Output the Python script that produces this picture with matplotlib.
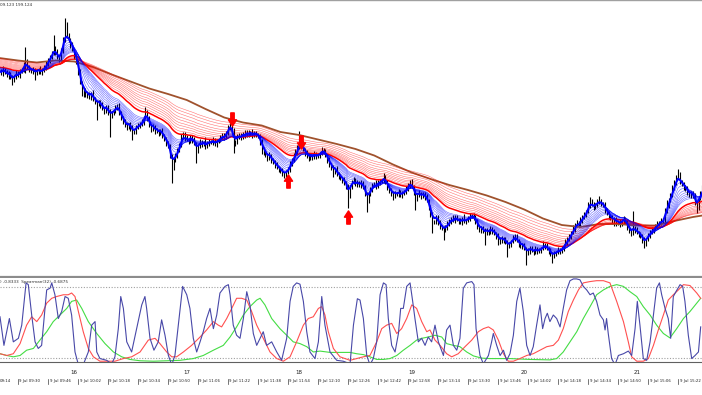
import numpy as np
import matplotlib
matplotlib.use("Agg")
import matplotlib.pyplot as plt
from matplotlib.path import Path

# ----------------------------
# Data (1-minute bars, time = minutes after 09:30)
# prices stored in points of 0.001 above BASE
# ----------------------------
BASE = 198.900
START_MIN = -10

close_pts = [
    458, 454, 462, 456, 450, 452, 446, 440, 448, 454, 450, 458,
    462, 470, 478, 466,
    462, 458, 460, 454, 458, 462, 456, 460, 466,
    472, 480, 488, 494, 504, 496,
    486, 482,
    500, 520, 540,
    530, 520, 510, 502,
    488, 476,
    456, 436, 414,
    418, 410, 412,
    406, 414, 402, 398,
    392, 396, 390,
    384, 378, 386, 376, 370,
    374, 380, 384, 388, 376,
    364, 358, 350, 346, 352,
    344, 336, 338, 346,
    350, 352, 356,
    366, 376, 364,
    350, 342, 346, 338,
    340, 334, 338, 330,
    322, 314, 308,
    290, 266, 280,
    290, 300, 312,
    326, 332, 324,
    322, 318, 326, 320, 314,
    300, 308, 316,
    312, 316, 308, 314, 318,
    316, 320, 312, 318, 322,
    324, 330, 326,
    336, 344, 352, 340,
    312, 318, 326,
    330, 326, 334, 330, 336,
    332, 336, 330, 334, 332,
    328, 316, 304,
    296, 290, 284, 290, 280,
    276, 270, 266, 262,
    258, 254, 252, 256, 262,
    272, 282, 290, 296,
    306, 318, 314,
    302, 294, 288, 284,
    288, 286, 292, 288, 290, 294,
    300, 298,
    290, 280, 270,
    266, 258, 262, 252, 248, 244,
    240, 234, 228,
    210,
    226, 238, 240,
    232, 236, 230, 234,
    226, 214, 200, 212, 222,
    230, 234, 228, 236,
    238, 240, 246, 236,
    226, 218, 214, 210, 214,
    212, 216, 210, 214, 218,
    222, 230, 236,
    228, 216, 204,
    210, 214, 208, 212,
    206, 200,
    186, 170, 156,
    158, 166, 154, 148, 144,
    140, 146,
    152, 158, 164, 160, 166, 162,
    158, 156, 162, 158, 160,
    164, 168, 170, 166,
    156, 148, 140, 144, 138, 134,
    140, 136, 142, 138, 134,
    128, 122, 118, 124, 120,
    116, 108, 112,
    118, 124, 128, 120,
    112, 108, 110, 104,
    94, 98, 104,
    100, 96, 102, 98, 100, 104,
    108, 110, 104,
    98, 92, 88, 94, 96,
    100, 98, 104,
    110, 116, 122,
    128, 136, 142,
    150, 156, 152,
    160, 166, 172, 178,
    190, 198, 192,
    186, 192, 196,
    198, 194, 190,
    180, 174, 168,
    164, 158, 162,
    154, 156, 152,
    158, 164, 156,
    146, 138, 134, 144,
    140, 136, 132,
    128, 120, 114, 122,
    130, 136, 140,
    144, 148, 152,
    156, 160, 158,
    178, 190, 200,
    212, 224, 236,
    246, 250, 238,
    232, 226, 222, 216,
    210, 214, 208,
    196, 186,
    204, 214, 224,
]

wick_hi = [
    5, 4, 6, 3, 5, 6, 4, 5, 3, 6,
    4, 5, 3, 6, 28, 4, 5, 3, 6, 4,
    5, 3, 6, 4, 5, 7, 4, 3, 5, 26,
    4, 6, 3, 5, 6, 24, 16, 5, 4, 6,
    3, 5, 4, 6, 3, 5, 7, 4, 5, 3,
    6, 4, 3, 5, 4, 6, 3, 5, 4, 6,
    5, 3, 6, 4, 7, 3, 5, 4, 6, 3,
    4, 6, 3, 5, 4, 5, 6, 3, 10, 4,
    5, 3, 6, 4, 5, 3, 4, 6, 3, 5,
    4, 5, 3, 6, 4, 5, 3, 6, 4, 5,
    6, 3, 5, 4, 6, 3, 5, 7, 4, 3,
    10, 4, 5, 3, 6, 4, 5, 3, 6, 4,
    5, 3, 6, 10, 4, 5, 3, 6, 4, 5,
    3, 6, 4, 5, 3, 6, 4, 5, 3, 4,
    6, 3, 5, 4, 6, 3, 5, 4, 6, 3,
    4, 6, 3, 5, 4, 6, 3, 5, 7, 4,
    20, 4, 5, 3, 6, 4, 5, 3, 6, 4,
    5, 3, 6, 4, 5, 3, 6, 4, 5, 3,
    6, 4, 5, 3, 6, 4, 4, 5, 3, 6,
    4, 5, 3, 6, 4, 5, 3, 6, 4, 5,
    3, 6, 4, 5, 3, 8, 4, 5, 3, 6,
    4, 5, 3, 6, 4, 5, 3, 6, 4, 5,
    6, 3, 5, 4, 6, 3, 5, 4, 6, 3,
    4, 6, 3, 5, 4, 6, 3, 5, 4, 6,
    5, 3, 6, 4, 5, 3, 6, 4, 10, 3,
    4, 6, 3, 5, 4, 6, 3, 5, 4, 6,
    5, 3, 6, 4, 5, 3, 6, 4, 5, 3,
    6, 4, 5, 3, 6, 4, 5, 3, 6, 4,
    5, 3, 6, 4, 5, 3, 6, 4, 5, 3,
    10, 4, 5, 3, 6, 4, 5, 3, 6, 4,
    5, 3, 6, 4, 5, 3, 8, 4, 5, 3,
    6, 4, 5, 3, 6, 8, 4, 5, 3, 6,
    10, 5, 3, 6, 4, 5, 3, 6, 4, 5,
    3, 6, 4, 5, 3, 6, 4, 5, 34, 4,
    6, 3, 5, 4, 6, 3, 5, 4, 6, 3,
    4, 6, 3, 5, 4, 6, 10, 5, 3, 6,
    5, 4, 12, 6, 3, 5, 4, 6, 3, 5,
    4, 6, 3, 5, 4, 6,
]

wick_lo = [
    5, 3, 6, 4, 4, 7, 3, 10, 4, 6,
    4, 5, 3, 6, 16, 4, 5, 3, 6, 14,
    3, 5, 4, 6, 3, 5, 4, 6, 5, 3,
    6, 4, 5, 3, 6, 4, 5, 3, 6, 4,
    5, 3, 6, 4, 5, 7, 4, 5, 3, 6,
    4, 5, 32, 3, 6, 4, 5, 3, 6, 44,
    5, 3, 6, 4, 5, 3, 6, 4, 5, 3,
    6, 16, 4, 5, 3, 6, 4, 5, 3, 6,
    4, 5, 3, 6, 4, 5, 3, 6, 4, 5,
    3, 6, 32, 5, 3, 6, 4, 5, 3, 6,
    4, 5, 3, 6, 4, 26, 5, 3, 6, 4,
    5, 3, 6, 4, 5, 3, 6, 4, 5, 3,
    6, 4, 5, 3, 6, 18, 4, 5, 3, 6,
    4, 5, 3, 6, 4, 5, 3, 6, 4, 5,
    12, 6, 4, 5, 3, 6, 4, 5, 3, 6,
    4, 5, 8, 6, 4, 5, 3, 6, 4, 5,
    3, 6, 4, 5, 3, 6, 4, 5, 3, 6,
    4, 5, 3, 6, 4, 5, 3, 6, 12, 5,
    3, 6, 4, 5, 3, 6, 26, 5, 3, 6,
    4, 5, 3, 6, 4, 5, 24, 6, 4, 5,
    3, 6, 4, 5, 3, 6, 4, 5, 3, 6,
    10, 5, 3, 6, 4, 5, 3, 6, 4, 5,
    3, 6, 24, 5, 3, 6, 4, 5, 3, 6,
    4, 22, 3, 6, 4, 5, 3, 20, 4, 5,
    3, 6, 4, 5, 3, 6, 4, 5, 3, 6,
    4, 5, 3, 6, 4, 5, 3, 6, 4, 24,
    3, 6, 4, 5, 3, 6, 12, 5, 3, 6,
    4, 22, 3, 6, 4, 5, 3, 6, 4, 5,
    3, 24, 4, 5, 3, 6, 4, 5, 3, 6,
    4, 5, 3, 6, 4, 14, 3, 6, 4, 5,
    3, 6, 4, 5, 3, 6, 4, 5, 3, 6,
    4, 5, 3, 6, 4, 5, 3, 6, 4, 5,
    3, 6, 4, 5, 3, 6, 4, 5, 10, 6,
    4, 5, 3, 6, 4, 5, 3, 6, 4, 5,
    3, 6, 4, 5, 10, 6, 4, 5, 3, 6,
    4, 5, 3, 6, 4, 5, 3, 6, 4, 5,
    3, 6, 4, 5, 3, 6, 4, 5, 3, 6,
    4, 5, 12, 6, 4, 5,
]

# long moving average (brown)
brown_t = [-10, 0, 10, 20, 30, 40, 50, 60, 70, 80, 90, 100, 110, 120, 130, 140,
           150, 160, 170, 180, 190, 200, 210, 220, 230, 240, 250, 260, 270, 280,
           290, 300, 310, 320, 330, 340, 350, 360, 365]
brown_pts = [484, 479, 475, 479, 477, 466, 451, 437, 423, 412, 400, 382, 365, 355,
             349, 336, 330, 321, 312, 302, 289, 271, 255, 242, 230, 220, 209, 196,
             181, 163, 150, 146, 152, 152, 149, 149, 158, 166, 169]

# guppy ribbons: periods and their level at the left edge
blue_periods = [3, 5, 7, 9, 11, 13, 15, 17, 19, 21]
blue_seed = [458, 458, 459, 460, 461, 462, 463, 464, 465, 466]
red_periods = [30, 35, 40, 45, 50, 56, 62, 70, 78, 86]
red_seed = [466, 468, 470, 472, 474, 476, 478, 480, 482, 484]

# signal arrows
arrow_t = [114, 144, 151, 176]
arrow_pts = [362, 238, 316, 166]
arrow_dir = ["down", "up", "down", "up"]

# Spearman oscillator lines
blue_t = [-9.6, -7.5, -4.6, -2.5, 0.2, 2.0, 4.3, 5.5, 7.3, 9.1, 10.8, 12.6, 14.4, 15.3,
          17.1, 18.0, 19.7, 21.5, 23.3, 25.1, 26.8, 28.6, 30.4, 32.2, 34.8, 37.5, 39.3,
          41.1, 42.0, 43.7, 47.3, 50.0, 51.7, 53.5, 54.8, 56.2, 58.0, 60.6, 63.3, 66.0,
          67.7, 68.6, 70.4, 72.5, 74.8, 76.6, 78.4, 80.2, 82.0, 83.7, 85.5, 87.8, 90.0,
          91.7, 93.5, 95.3, 97.1, 98.8, 100.6, 102.4, 104.2, 106.0, 107.7, 110.4, 112.2,
          113.1, 114.8, 116.6, 118.4, 120.2, 122.0, 123.7, 125.5, 127.3, 129.1, 130.8,
          132.6, 135.3, 138.0, 140.6, 143.3, 145.1, 146.8, 148.6, 150.4, 152.2, 154.0,
          155.7, 158.4, 160.2, 162.0, 163.7, 166.4, 170.0, 173.5, 177.1,
          178.9, 181.0, 182.4, 184.2, 186.0, 187.7, 189.5, 191.3, 193.1, 194.9, 196.3,
          197.5, 199.3, 201.1, 202.9, 204.1, 205.5, 207.3, 209.1, 210.5, 211.7, 213.5,
          215.3, 217.1, 218.8, 220.6, 222.4, 224.2, 226.9, 228.6, 230.4, 232.2, 234.0,
          235.7, 237.5, 239.3, 242.0, 243.2, 244.3, 246.4, 248.2, 250.9, 252.6, 253.5,
          255.3, 257.1, 258.9, 260.6, 262.4, 264.2, 266.0, 267.7, 269.5, 271.3, 273.1,
          274.8, 276.6, 278.4, 279.8, 281.1, 282.3, 283.7, 285.5, 287.3, 289.1, 290.8,
          292.6, 294.4, 296.2, 297.9, 299.7, 301.5, 303.3, 305.1, 306.8, 308.6, 310.4,
          312.2, 313.1, 313.9, 314.8, 316.6, 318.4, 320.2, 322.9, 325.5, 327.3, 329.1,
          330.3, 331.7, 333.5, 335.3, 337.1, 338.9, 340.6, 342.1, 343.3, 345.1, 346.8,
          348.1, 349.5, 350.9, 353.1, 354.5, 355.7, 357.5, 359.3, 361.1, 362.9, 364.1]
blue_v = [0.13, -0.52, 0.09, -0.44, -0.36, -0.06, 0.90, 0.86, 0.17, -0.44, -0.59, -0.52,
          0.32, 0.74, 0.78, 0.90, 0.63, 0.09, 0.25, 0.59, 0.55, 0.17, -0.67, -0.96, -0.96,
          -0.67, -0.06, 0.02, -0.67, -0.82, -0.86, -0.94, -0.78, -0.14, 0.59, 0.32, -0.44,
          -0.67, -0.14, 0.40, 0.59, 0.32, -0.36, -0.63, -0.44, 0.06, -0.29, -0.75, -0.96,
          -0.75, -0.06, 0.82, 0.63, 0.32, -0.36, -0.67, -0.44, -0.21, 0.09, 0.32, -0.14,
          0.17, 0.67, 0.82, 0.86, 0.63, -0.06, -0.29, -0.36, 0.09, 0.70, 0.40, -0.25,
          -0.52, -0.36, -0.21, -0.52, -0.44, -0.67, -0.86, -0.36, 0.48, 0.82, 0.90, 0.87,
          0.48, -0.21, -0.67, -0.82, -0.44, 0.59, -0.06, -0.67, -0.86, -0.88, -0.94,
          -0.06, 0.54, 0.51, 0.09, -0.75, -0.96, -0.82, -0.44, 0.63, 0.90, 0.86, 0.09,
          -0.52, -0.67, -0.25, 0.32, 0.32, 0.82, 0.90, 0.48, 0.09, -0.44, -0.36, -0.52,
          -0.33, -0.44, -0.06, -0.44, -0.75, -0.17, -0.06, -0.52, -0.63, -0.36, 0.78,
          0.90, 0.93, 0.86, -0.14, -0.75, -0.94, -0.75, -0.44, -0.25, -0.52, -0.75,
          -0.63, -0.86, -0.71, -0.29, 0.48, 0.78, 0.25, -0.52, -0.75, -0.55, -0.06, 0.40,
          -0.14, 0.09, 0.21, 0.02, 0.17, 0.09, -0.10, 0.32, 0.74, 0.95, 0.99, 0.99, 0.97,
          0.82, 0.74, 0.63, 0.67, 0.48, 0.17, 0.06, -0.17, 0.09, -0.25, -0.82, -0.96,
          -0.75, -0.71, -0.65, -0.75, -0.14, 0.48, -0.06, -0.82, -0.86, -0.44, 0.17, 0.78,
          0.90, 0.63, 0.32, 0.09, -0.36, 0.59, 0.70, 0.86, 0.82, 0.48, -0.29, -0.82,
          -0.75, -0.67, -0.10]

red_t = [-9.6, -6.0, -2.5, 1.1, 4.6, 7.3, 10.0, 12.6, 15.3, 18.0, 20.6, 24.2, 26.8, 28.6,
         30.4, 32.2, 34.8, 37.5, 40.2, 43.7, 47.3, 51.7, 56.2, 60.6, 65.1, 69.5, 73.1,
         75.7, 79.3, 82.0, 84.6, 88.2, 92.6, 97.1, 100.6, 104.2, 106.8, 108.6, 111.3,
         114.0, 116.6, 119.3, 122.0, 124.6, 127.3, 130.8, 134.4, 138.0, 141.5, 145.1,
         148.6, 152.2, 154.8, 157.5, 160.2, 162.0, 163.7, 165.5, 168.2, 171.7, 177.1,
         180.6, 184.2, 187.7, 191.3, 194.0, 196.6, 199.3, 202.0, 204.6, 207.3, 210.0,
         212.6, 215.3, 218.0, 219.7, 222.4, 225.1, 228.6, 231.3, 234.8, 238.4, 242.0,
         245.5, 248.2, 250.9, 253.5, 256.2, 258.9, 261.5, 264.2, 267.7, 271.3, 274.8,
         278.4, 282.0, 285.5, 288.2, 290.8, 293.5, 296.2, 298.9, 301.5, 305.1, 308.6,
         312.2, 315.7, 319.3, 322.9, 325.5, 327.3, 330.0, 333.5, 336.2, 338.9, 341.5,
         344.2, 346.8, 349.5, 352.2, 354.9, 358.4, 362.0, 364.1]
red_v = [-0.71, -0.75, -0.71, -0.48, -0.06, 0.13, 0.02, 0.17, 0.44, 0.55, 0.59, 0.63,
         0.63, 0.67, 0.59, 0.25, -0.21, -0.59, -0.78, -0.88, -0.88, -0.88, -0.82, -0.78,
         -0.67, -0.40, -0.36, -0.48, -0.67, -0.78, -0.78, -0.67, -0.52, -0.33, -0.17,
         0.02, -0.06, -0.10, 0.09, 0.32, 0.55, 0.55, 0.51, 0.25, -0.06, -0.36, -0.67,
         -0.82, -0.88, -0.78, -0.44, -0.06, 0.09, 0.13, 0.32, 0.36, 0.17, -0.21, -0.59,
         -0.78, -0.86,
         -0.82, -0.78, -0.75, -0.44, -0.14, -0.06, -0.02, -0.25, -0.14, 0.09, 0.40, 0.32,
         0.02, -0.21, -0.17, -0.40, -0.52, -0.71, -0.78, -0.71, -0.55, -0.40, -0.21,
         -0.14, -0.10, -0.17, -0.40, -0.71, -0.88, -0.88, -0.82, -0.75, -0.71, -0.63,
         -0.55, -0.52, -0.40, -0.14, 0.25, 0.51, 0.74, 0.90, 0.93, 0.95, 0.95, 0.90,
         0.48, 0.02, -0.44, -0.78, -0.88, -0.88, -0.82, -0.52, -0.17, 0.17, 0.51, 0.63,
         0.74, 0.86, 0.84, 0.67, 0.55]

green_t = [-9.6, -6.0, -2.5, 1.1, 4.6, 8.2, 11.7, 15.3, 18.8, 22.4, 26.0, 28.6, 31.3,
           34.0, 37.5, 42.0, 46.4, 50.9, 55.3, 59.7, 65.1, 72.2, 79.3, 86.4, 93.5, 98.8,
           104.2, 109.5, 113.1, 116.6, 120.2, 123.7, 127.3, 129.1, 131.7, 135.3, 139.7,
           143.3, 146.8, 150.4, 154.0, 157.5, 161.1, 166.4, 171.7, 177.1, 180.6, 184.2,
           187.7, 191.3, 194.9, 198.4, 202.0, 205.5, 209.1, 212.6, 215.3, 218.8, 222.4,
           226.0, 228.6, 232.2, 235.7, 239.3, 242.9, 247.3, 251.7, 262.4, 273.1, 283.7,
           287.3, 290.8, 294.4, 298.0, 301.5, 305.1, 308.6, 312.2, 315.7, 319.3, 322.9,
           326.4, 330.0, 333.5, 337.1, 340.6, 344.2, 347.7, 351.3, 354.9, 358.4, 362.0,
           364.1]
green_v = [-0.71, -0.75, -0.78, -0.75, -0.63, -0.59, -0.40, -0.21, 0.02, 0.17, 0.32,
           0.48, 0.51, 0.32, 0.02, -0.25, -0.48, -0.67, -0.78, -0.84, -0.87, -0.88, -0.87,
           -0.86, -0.82, -0.75, -0.63, -0.52, -0.33, -0.10, 0.17, 0.36, 0.51, 0.55, 0.40,
           0.09, -0.14, -0.29, -0.44, -0.48, -0.55, -0.67, -0.65, -0.68, -0.68, -0.68,
           -0.71, -0.73, -0.78, -0.84, -0.84, -0.82, -0.75, -0.63, -0.52, -0.40, -0.36,
           -0.33, -0.29, -0.33, -0.48, -0.52, -0.55, -0.67, -0.76, -0.81, -0.82, -0.82,
           -0.84, -0.85, -0.82, -0.67, -0.44, -0.21, 0.09, 0.36, 0.63, 0.74, 0.82, 0.86,
           0.82, 0.70, 0.59, 0.36, 0.17, -0.06, -0.25, -0.35, -0.14, 0.09, 0.25, 0.44,
           0.55]

osc_levels = [0.8, -0.8]

# time axis labels
tick_min = [-16, 0, 16, 32, 48, 64, 80, 96, 112, 128, 144, 160, 176, 192, 208, 224,
            240, 256, 272, 288, 304, 320, 336, 352]
tick_labels = ["9 Jul 09:14", "9 Jul 09:30", "9 Jul 09:46", "9 Jul 10:02",
               "9 Jul 10:18", "9 Jul 10:34", "9 Jul 10:50", "9 Jul 11:06",
               "9 Jul 11:22", "9 Jul 11:38", "9 Jul 11:54", "9 Jul 12:10",
               "9 Jul 12:26", "9 Jul 12:42", "9 Jul 12:58", "9 Jul 13:14",
               "9 Jul 13:30", "9 Jul 13:46", "9 Jul 14:02", "9 Jul 14:18",
               "9 Jul 14:34", "9 Jul 14:50", "9 Jul 15:06", "9 Jul 15:22"]
hour_min = [30, 90, 150, 210, 270, 330]
hour_labels = ["16", "17", "18", "19", "20", "21"]

# ----------------------------
# Derived series
# ----------------------------
def to_price(pts):
    return BASE + np.asarray(pts, dtype=float) / 1000.0


def ema(values, period, seed):
    alpha = 2.0 / (period + 1)
    out = []
    e = seed
    for v in values:
        e = e + alpha * (v - e)
        out.append(e)
    return np.array(out)


close_arr = np.array(close_pts, dtype=float)
n = len(close_arr)
t = np.arange(START_MIN, START_MIN + n)
open_arr = np.concatenate([[close_arr[0]], close_arr[:-1]])
high_arr = np.maximum(open_arr, close_arr) + np.array(wick_hi[:n])
low_arr = np.minimum(open_arr, close_arr) - np.array(wick_lo[:n])

# ----------------------------
# Figure layout (MT4 style)
# ----------------------------
W, H = 702, 395
fig = plt.figure(figsize=(W / 100, H / 100), dpi=100)
fig.patch.set_facecolor("white")

ax = fig.add_axes([0, (H - 277) / H, 1, 277 / H])
ax2 = fig.add_axes([0, (H - 362) / H, 1, 84 / H])

XMIN, XMAX = -9.6, 364.8
for a in (ax, ax2):
    a.set_xlim(XMIN, XMAX)
    a.set_xticks([])
    a.set_yticks([])
    a.set_facecolor("white")
    for s in ("left", "right"):
        a.spines[s].set_visible(False)

ax.set_ylim(to_price(46), to_price(600))
ax.spines["top"].set_color("#a0a0a0")
ax.spines["top"].set_linewidth(1.0)
ax.spines["bottom"].set_color("#8c8c8c")
ax.spines["bottom"].set_linewidth(1.6)

ax2.set_ylim(-0.898, 1.011)
ax2.spines["top"].set_visible(False)
ax2.spines["bottom"].set_color("#606060")
ax2.spines["bottom"].set_linewidth(0.8)

# ----------------------------
# Price panel
# ----------------------------
ax.vlines(t, to_price(low_arr), to_price(high_arr), color="black", lw=0.8, zorder=1)

ax.plot(brown_t, to_price(brown_pts), color="#a0522d", lw=1.3, zorder=2)

for p, s in zip(red_periods[1:], red_seed[1:]):
    ax.plot(t, to_price(ema(close_arr, p, s)), color="#ff0000", lw=0.4,
            alpha=0.55, zorder=3)
ax.plot(t, to_price(ema(close_arr, red_periods[0], red_seed[0])), color="#ff0000",
        lw=1.1, zorder=3)

for p, s in zip(blue_periods[1:], blue_seed[1:]):
    ax.plot(t, to_price(ema(close_arr, p, s)), color="#0000ff", lw=0.4,
            alpha=0.6, zorder=4)
ax.plot(t, to_price(ema(close_arr, blue_periods[0], blue_seed[0])), color="#0000ff",
        lw=1.5, zorder=4)

up_verts = [(0, 1), (0.62, 0.05), (0.26, 0.05), (0.26, -1), (-0.26, -1),
            (-0.26, 0.05), (-0.62, 0.05), (0, 1)]
codes = [Path.MOVETO] + [Path.LINETO] * 6 + [Path.CLOSEPOLY]
up_marker = Path(up_verts, codes)
down_marker = Path([(x, -y) for x, y in up_verts], codes)

for at, ap, ad in zip(arrow_t, arrow_pts, arrow_dir):
    mk = up_marker if ad == "up" else down_marker
    ax.plot([at], [to_price(ap)], marker=mk, markersize=9.5, color="#ff0000",
            markeredgecolor="#ff0000", linestyle="none", zorder=6)

fig.text(0.0, 1 - 5 / H, "09.123 199.124", fontsize=3, color="#303030",
         ha="left", va="center")

# ----------------------------
# Oscillator panel
# ----------------------------
for lvl in osc_levels:
    ax2.axhline(lvl, color="#a0a0a0", lw=0.8, linestyle=(0, (1, 1.5)), zorder=1)

ax2.plot(green_t, green_v, color="#44dd44", lw=0.8, zorder=2)
ax2.plot(red_t, red_v, color="#ff5050", lw=0.8, zorder=3)
ax2.plot(blue_t, blue_v, color="#4848a8", lw=0.8, zorder=4)

fig.text(0.0, 1 - 282.5 / H, ") -0.8333  Spearman(32) -0.6875", fontsize=3,
         color="#303030", ha="left", va="center")

# ----------------------------
# Time axis labels
# ----------------------------
def min_to_figx(m):
    return (m - XMIN) / (XMAX - XMIN)


for m, lab in zip(hour_min, hour_labels):
    fig.text(min_to_figx(m), 1 - 372 / H, lab, fontsize=4, color="#202020",
             ha="center", va="center")

for m, lab in zip(tick_min, tick_labels):
    xf = min_to_figx(m)
    if xf < 0:
        # only the time part of the first label is inside the window
        fig.text(0.0, 1 - 381 / H, lab.split()[-1], fontsize=2.8, color="#202020",
                 ha="left", va="center")
        continue
    fig.add_artist(plt.Line2D([xf, xf], [1 - 378.5 / H, 1 - 384 / H],
                              color="#404040", lw=0.5))
    fig.text(xf + 1.5 / W, 1 - 381 / H, lab, fontsize=2.8, color="#202020",
             ha="left", va="center")

fig.savefig("out.png", dpi=100)
